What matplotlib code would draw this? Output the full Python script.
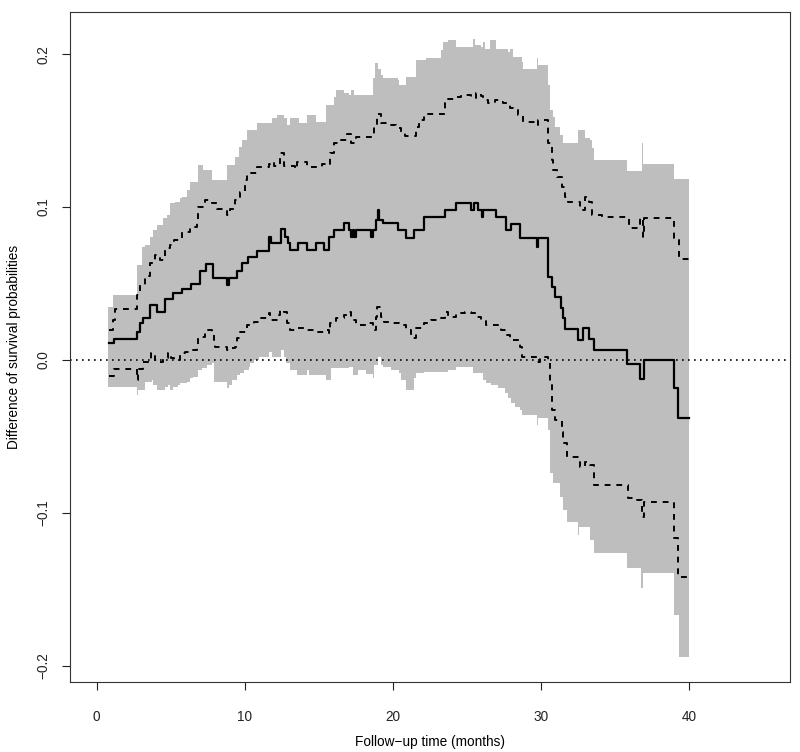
import numpy as np
import matplotlib
matplotlib.use("Agg")
import matplotlib.pyplot as plt

plt.rcParams['font.family'] = ['Liberation Sans', 'DejaVu Sans']

END_TIME = 40.0

# Point estimate (step function: start time, value)
est_t = [0.84, 1.15, 2.69, 2.92, 3.14, 3.59, 4.05, 4.61, 5.18, 5.74, 6.37, 6.98, 7.39, 7.84,
         8.79, 8.9, 9.47, 9.81, 10.21, 10.83, 11.66, 11.8, 12.41, 12.7, 12.93, 13.08, 13.61,
         14.22, 14.78, 15.34, 15.68, 16.02, 16.7, 17.04, 17.15, 17.27, 17.38, 17.5, 17.6,
         18.51, 18.62, 18.85, 18.96, 19.07, 19.3, 20.32, 20.88, 21.44, 22.12, 23.48, 24.27,
         25.29, 25.5, 25.74, 26.0, 26.1, 26.98, 27.66, 27.95, 28.6, 29.69, 29.81, 30.49,
         30.6, 30.71, 30.94, 31.34, 31.5, 31.61, 32.52, 32.86, 33.24, 33.54, 35.8, 36.7,
         36.93, 38.96, 39.25]
est_v = [0.011, 0.0135, 0.0185, 0.024, 0.0272, 0.036, 0.0316, 0.0397, 0.044, 0.0462, 0.0495,
         0.0582, 0.0627, 0.0534, 0.049, 0.0534, 0.0584, 0.0632, 0.0675, 0.0714, 0.0806, 0.0763,
         0.0854, 0.0806, 0.0763, 0.0719, 0.0763, 0.0719, 0.0763, 0.0719, 0.0806, 0.085, 0.0893,
         0.085, 0.0806, 0.085, 0.0806, 0.085, 0.085, 0.0806, 0.085, 0.0915, 0.098, 0.0915,
         0.0893, 0.085, 0.0795, 0.085, 0.0937, 0.098, 0.1028, 0.098, 0.1028, 0.098, 0.0937,
         0.098, 0.0937, 0.085, 0.0889, 0.0795, 0.074, 0.0795, 0.0545, 0.0545, 0.0479, 0.0414,
         0.0338, 0.0272, 0.02, 0.0131, 0.0207, 0.0135, 0.0065, -0.0026, -0.0126, 0.0, -0.0185,
         -0.038]

# Upper pointwise confidence limit
ucl_t = [0.84, 1.11, 1.22, 2.69, 2.92, 3.26, 3.6, 3.94, 4.29, 4.61, 4.97, 5.2, 5.76, 6.31,
         6.78, 6.87, 7.33, 7.78, 8.12, 8.79, 9.02, 9.36, 9.7, 10.03, 10.15, 10.82, 11.62,
         11.73, 11.96, 12.4, 12.63, 13.42, 13.54, 14.22, 15.23, 15.57, 15.75, 16.02, 16.47,
         16.93, 17.15, 17.49, 18.73, 18.91, 19.19, 19.75, 20.2, 20.54, 20.81, 21.56, 21.79,
         22.12, 23.48, 23.71, 24.16, 24.61, 25.29, 25.63, 25.97, 26.08, 26.42, 26.87, 27.21,
         27.44, 27.89, 28.11, 28.45, 28.79, 29.69, 29.81, 30.49, 30.71, 30.83, 31.05, 31.39,
         31.61, 31.84, 32.63, 32.97, 33.2, 33.42, 34.1, 35.91, 36.7, 36.85, 36.95, 38.96, 39.3]
ucl_v = [0.0196, 0.0261, 0.0331, 0.0425, 0.049, 0.0549, 0.0632, 0.0686, 0.0654, 0.073, 0.0752,
         0.0784, 0.0839, 0.0871, 0.0915, 0.1002, 0.1046, 0.1024, 0.0985, 0.0948, 0.0985, 0.1046,
         0.11, 0.1176, 0.122, 0.1264, 0.1285, 0.1296, 0.1268, 0.1351, 0.1268, 0.1251, 0.1296,
         0.1264, 0.1285, 0.1275, 0.1351, 0.142, 0.1438, 0.1481, 0.1416, 0.146, 0.1525, 0.1612,
         0.1547, 0.1536, 0.1514, 0.1492, 0.1464, 0.1525, 0.1569, 0.1612, 0.1678, 0.171, 0.1721,
         0.1736, 0.1714, 0.1743, 0.1725, 0.17, 0.1678, 0.17, 0.1688, 0.1678, 0.1645, 0.1634,
         0.1601, 0.1558, 0.1536, 0.1569, 0.1416, 0.1307, 0.1242, 0.1198, 0.1133, 0.1068, 0.1035,
         0.098, 0.1068, 0.1035, 0.0948, 0.0937, 0.0861, 0.0926, 0.0806, 0.0926, 0.0795, 0.0658]

# Lower pointwise confidence limit
lcl_t = [0.84, 1.15, 2.69, 2.8, 3.14, 3.5, 3.65, 3.94, 4.29, 4.5, 4.84, 5.0, 5.2, 5.63, 5.97,
         6.4, 6.78, 6.87, 7.33, 7.78, 7.9, 8.0, 8.79, 9.02, 9.36, 9.47, 9.7, 10.15, 10.6, 11.05,
         11.62, 11.73, 12.29, 12.4, 12.63, 12.86, 13.08, 13.54, 14.22, 14.78, 15.34, 15.68,
         15.75, 16.15, 16.7, 16.93, 17.15, 17.49, 18.2, 18.62, 18.85, 18.91, 19.19, 19.41,
         19.97, 20.43, 20.88, 21.22, 21.56, 22.12, 22.58, 23.03, 23.48, 23.71, 24.27, 24.84,
         25.29, 25.63, 25.97, 26.31, 27.1, 27.32, 27.66, 27.89, 28.56, 28.68, 29.69, 29.92,
         30.49, 30.6, 30.71, 30.94, 31.39, 31.5, 31.73, 32.63, 32.97, 33.31, 33.54, 35.86,
         36.25, 36.81, 36.93, 38.96, 39.25]
lcl_v = [-0.0105, -0.0061, -0.0131, -0.0061, -0.0011, 0.0, 0.0044, 0.0, -0.0011, 0.0011,
         0.0044, 0.0011, 0.0, 0.0044, 0.0054, 0.0065, 0.0087, 0.0152, 0.0196, 0.0185, 0.0131,
         0.0087, 0.0065, 0.0076, 0.0087, 0.0142, 0.0185, 0.0229, 0.025, 0.0272, 0.0305, 0.0261,
         0.0294, 0.0327, 0.0316, 0.024, 0.0196, 0.0207, 0.0196, 0.0185, 0.0196, 0.0174, 0.024,
         0.0272, 0.0294, 0.0316, 0.0261, 0.0229, 0.024, 0.0196, 0.0283, 0.0348, 0.0283, 0.025,
         0.024, 0.0229, 0.0196, 0.0142, 0.0207, 0.024, 0.0261, 0.0272, 0.0316, 0.0283, 0.0305,
         0.0316, 0.0305, 0.0283, 0.0261, 0.0229, 0.0207, 0.0196, 0.0163, 0.0131, 0.0087,
         0.0022, -0.0011, 0.0017, 0.0, -0.0152, -0.0327, -0.0392, -0.0468, -0.0545, -0.0632,
         -0.0697, -0.0665, -0.0686, -0.0817, -0.0904, -0.0915, -0.1024, -0.0926, -0.1166,
         -0.1416]

# Simultaneous confidence band - upper edge
ub_t = [0.77, 1.11, 2.69, 3.03, 3.25, 3.59, 3.82, 4.05, 4.5, 4.72, 4.95, 5.29, 5.63, 5.74,
        6.08, 6.31, 6.87, 7.21, 7.78, 8.79, 9.36, 9.58, 9.81, 10.15, 10.83, 11.84, 12.18,
        12.63, 12.86, 13.08, 13.65, 14.22, 14.78, 15.46, 16.02, 16.14, 16.7, 17.04, 17.15,
        17.38, 18.62, 18.78, 18.96, 19.19, 19.3, 20.32, 20.43, 20.88, 21.56, 22.24, 23.25,
        23.37, 23.71, 24.27, 25.4, 25.51, 25.97, 26.08, 26.19, 26.53, 26.98, 27.78, 27.89,
        28.11, 28.68, 28.79, 29.69, 29.81, 30.49, 30.6, 30.83, 30.94, 31.28, 31.5, 32.52,
        32.97, 33.31, 33.42, 33.54, 35.8, 36.81, 36.9, 38.96]
ub_v = [0.0348, 0.0425, 0.0621, 0.074, 0.0752, 0.0806, 0.085, 0.0882, 0.0926, 0.0948, 0.1024,
        0.1035, 0.1057, 0.1068, 0.1111, 0.1165, 0.1275, 0.1242, 0.1176, 0.1275, 0.1329,
        0.1394, 0.1438, 0.1503, 0.1547, 0.158, 0.1601, 0.158, 0.1536, 0.158, 0.1547, 0.1601,
        0.1558, 0.1667, 0.1721, 0.1765, 0.1743, 0.1732, 0.1765, 0.1732, 0.1841, 0.1939,
        0.1906, 0.1863, 0.1841, 0.183, 0.1797, 0.1852, 0.1961, 0.1972, 0.2026, 0.208, 0.2092,
        0.2048, 0.2102, 0.2059, 0.2048, 0.208, 0.2037, 0.2092, 0.2037, 0.2015, 0.2037, 0.1982,
        0.195, 0.1906, 0.1972, 0.1928, 0.18, 0.1634, 0.159, 0.1525, 0.1471, 0.1416, 0.1503,
        0.1449, 0.1438, 0.1384, 0.1307, 0.1237, 0.1416, 0.1285, 0.1187]

# Simultaneous confidence band - lower edge
lb_t = [0.77, 2.69, 2.8, 3.25, 3.71, 3.82, 4.05, 4.61, 4.84, 4.95, 5.18, 5.51, 5.63, 6.08,
        6.31, 6.53, 6.87, 7.1, 7.44, 7.78, 7.89, 8.79, 8.9, 9.13, 9.47, 9.69, 9.92, 10.26,
        10.37, 10.6, 10.94, 11.62, 11.84, 12.41, 12.63, 12.75, 13.08, 13.54, 14.22, 14.33,
        14.78, 15.46, 15.8, 17.04, 17.27, 17.61, 18.2, 18.62, 18.73, 18.96, 19.19, 19.3,
        19.9, 20.43, 20.54, 20.88, 21.44, 21.56, 22.12, 23.71, 24.27, 25.4, 26.08, 26.31,
        26.64, 27.1, 27.55, 27.78, 28.0, 28.22, 28.56, 28.68, 29.69, 29.81, 30.49, 30.6,
        30.83, 31.28, 31.5, 31.73, 32.52, 32.57, 32.97, 33.31, 33.54, 35.8, 36.77, 36.86,
        38.96, 39.3]
lb_v = [-0.0174, -0.0229, -0.0196, -0.0142, -0.0131, -0.0163, -0.0196, -0.0174, -0.0163,
        -0.0196, -0.0174, -0.0163, -0.0152, -0.0142, -0.012, -0.0109, -0.0065, -0.0054,
        -0.0033, -0.0022, -0.0142, -0.0185, -0.0163, -0.0131, -0.0098, -0.0087, -0.0065,
        -0.0044, -0.0022, 0.0, 0.0022, 0.0054, 0.0022, 0.0065, 0.0022, -0.0022, -0.0065,
        -0.0098, -0.0065, -0.0098, -0.0098, -0.0131, -0.005, -0.0044, -0.0098, -0.0065,
        -0.009, -0.012, -0.0033, 0.0022, -0.0033, -0.0044, -0.0065, -0.0087, -0.0131, -0.0196,
        -0.012, -0.0087, -0.0076, -0.0065, -0.0044, -0.0087, -0.0131, -0.0152, -0.0163,
        -0.0185, -0.0218, -0.025, -0.0283, -0.0305, -0.0327, -0.0359, -0.0425, -0.0381,
        -0.0458, -0.0741, -0.0806, -0.0893, -0.098, -0.1057, -0.1144, -0.109, -0.109, -0.1176,
        -0.1264, -0.1362, -0.1492, -0.1394, -0.1667, -0.1939]

x_ticks = [0, 10, 20, 30, 40]
y_ticks = [-0.2, -0.1, 0.0, 0.1, 0.2]
y_tick_labels = ["\u22120.2", "\u22120.1", "0.0", "0.1", "0.2"]


def step_xy(t, v):
    return np.append(t, END_TIME), np.append(v, v[-1])


def lookup(t, v, grid):
    idx = np.searchsorted(np.asarray(t), grid, side='right') - 1
    idx = np.clip(idx, 0, len(v) - 1)
    return np.asarray(v)[idx]


fig = plt.figure(figsize=(8.0, 7.52), dpi=100)
ax = fig.add_axes([0.0875, 0.0935, 0.9, 0.89])

grid = np.unique(np.concatenate([ub_t, lb_t, [END_TIME]]))
hi = lookup(ub_t, ub_v, grid)
lo = lookup(lb_t, lb_v, grid)
ax.fill_between(grid, lo, hi, step='post', color='#BEBEBE', linewidth=0, zorder=1)

ax.axhline(0, color='black', linewidth=1.2, linestyle=(0, (1, 2.6)), zorder=2)

x, y = step_xy(est_t, est_v)
ax.step(x, y, where='post', color='black', linewidth=1.6, zorder=3)
x, y = step_xy(ucl_t, ucl_v)
ax.step(x, y, where='post', color='black', linewidth=1.4, linestyle=(0, (3, 3)), zorder=3)
x, y = step_xy(lcl_t, lcl_v)
ax.step(x, y, where='post', color='black', linewidth=1.4, linestyle=(0, (3, 3)), zorder=3)

ax.set_xlim(-1.8, 46.8)
ax.set_ylim(-0.2103, 0.2273)
ax.set_xticks(x_ticks)
ax.set_xticklabels([str(v) for v in x_ticks])
ax.set_yticks(y_ticks)
ax.set_yticklabels(y_tick_labels, rotation=90, va='center')
ax.tick_params(axis='both', direction='out', length=5.5, width=0.8, labelsize=9.8,
               colors='#222222')
ax.tick_params(axis='x', pad=15)
ax.tick_params(axis='y', pad=8.5)
for s in ax.spines.values():
    s.set_linewidth(0.8)
    s.set_color('#333333')

ax.set_xlabel('Follow\u2212up time (months)', fontsize=9.8, labelpad=8)
ax.set_ylabel('Difference of survival probabilities', fontsize=9.8, labelpad=11)

fig.savefig('out.png', dpi=100)
